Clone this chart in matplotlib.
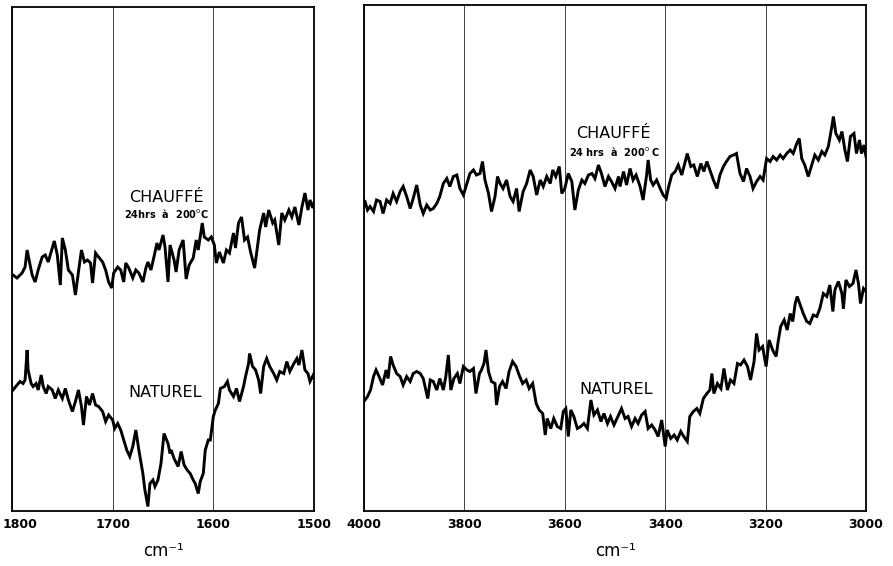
import matplotlib
matplotlib.use("Agg")
import matplotlib.pyplot as plt

#------------------------------------------------------------------------------
#                                   DATA
# wavenumbers (cm-1) and transmission (arbitrary %)

# 1800-1500 cm-1, heated sample ("CHAUFFÉ")
wn_low_heated = [1799, 1795, 1790, 1787, 1785, 1783, 1780, 1777, 1774, 1770,
                 1767, 1764, 1760, 1758, 1755, 1752, 1750, 1747, 1744, 1740,
                 1737, 1734, 1731, 1728, 1725, 1722, 1720, 1717, 1714, 1710,
                 1707, 1704, 1701, 1699, 1695, 1692, 1689, 1687, 1684, 1680,
                 1677, 1674, 1670, 1667, 1665, 1662, 1659, 1656, 1654, 1650,
                 1648, 1645, 1643,
                 1639, 1637, 1634, 1630, 1627, 1624, 1620, 1617, 1615, 1611,
                 1609, 1605, 1602, 1599, 1597, 1594, 1590, 1587, 1584, 1580,
                 1578, 1575, 1572, 1569, 1566, 1563, 1559, 1557, 1554, 1550,
                 1548, 1545, 1541, 1539, 1535, 1532, 1529, 1525, 1522, 1519,
                 1515, 1512, 1509, 1506, 1504, 1501, 1500]
t_low_heated = [47.2, 46.6, 47.6, 48.8, 52.2, 50.2, 47.2, 45.8, 48.2, 50.8,
                51.2, 49.8, 52.6, 54.0, 51.2, 45.2, 54.6, 52.2, 48.2, 47.2,
                43.2, 47.8, 52.2, 49.8, 50.2, 49.6, 45.6, 51.6, 50.8, 49.8,
                48.2, 45.8, 44.6, 47.6, 48.8, 48.2, 45.8, 49.6, 48.6, 46.6,
                48.2, 47.6, 45.8, 48.6, 49.8, 48.2, 50.8, 53.6, 52.2, 55.2,
                52.8, 45.8, 53.2,
                50.2, 47.8, 52.2, 54.2, 46.4, 49.2, 50.6, 54.2, 52.2, 57.6,
                54.8, 54.2, 54.8, 53.2, 49.6, 51.8, 49.6, 52.2, 51.6, 55.6,
                52.6, 57.6, 58.8, 54.2, 54.8, 51.8, 48.6, 51.6, 56.2, 59.6,
                56.8, 60.2, 57.6, 58.2, 53.2, 59.6, 58.2, 60.2, 58.8, 60.8,
                57.2, 60.8, 63.6, 60.2, 62.2, 60.6, 61.6]

# 1800-1500 cm-1, natural sample ("NATUREL")
wn_low_natural = [1799, 1795, 1792, 1789, 1787, 1785, 1784, 1781, 1779, 1776,
                  1774, 1771, 1769, 1766, 1764, 1760, 1757, 1754, 1750, 1747,
                  1744, 1740, 1737, 1734, 1731, 1729, 1726, 1723, 1720, 1717,
                  1714, 1710, 1707, 1704, 1700, 1698, 1695, 1692, 1689, 1686,
                  1683, 1680, 1677, 1674, 1670, 1668, 1665, 1663, 1660, 1658,
                  1655, 1652, 1649, 1645, 1643,
                  1642, 1639, 1635, 1632, 1629, 1626, 1623, 1620, 1618, 1615,
                  1613, 1610, 1608, 1605, 1603, 1600, 1598, 1595, 1593, 1589,
                  1586, 1584, 1580, 1577, 1574, 1570, 1568, 1565, 1564, 1561,
                  1558, 1555, 1553, 1550, 1547, 1544, 1540, 1537, 1534, 1530,
                  1527, 1524, 1520, 1517, 1515, 1512, 1509, 1506, 1504, 1500]
t_low_natural = [24.2, 25.2, 25.9, 25.5, 26.2, 32.2, 28.2, 25.5, 24.9, 25.5,
                 24.2, 27.2, 24.9, 23.5, 24.9, 24.2, 22.5, 24.2, 22.5, 24.5,
                 22.2, 19.9, 21.9, 24.2, 20.9, 17.2, 22.9, 21.2, 23.5, 21.2,
                 20.9, 19.9, 17.9, 19.2, 18.2, 16.5, 17.5, 16.2, 14.2, 12.2,
                 10.9, 12.9, 16.2, 12.2, 7.5, 4.2, 0.9, 5.5, 6.2, 4.9,
                 6.2, 9.5, 15.5, 13.5, 11.5,
                 12.2, 10.5, 8.9, 11.9, 9.2, 8.2, 7.5, 6.2, 5.5, 3.5,
                 5.9, 7.5, 12.2, 14.2, 14.2, 18.9, 20.2, 21.5, 24.5, 24.9,
                 25.9, 24.2, 22.9, 24.5, 21.9, 24.9, 26.9, 29.5, 31.5, 28.9,
                 28.2, 26.2, 23.5, 28.9, 30.5, 28.9, 27.5, 26.2, 27.9, 27.5,
                 29.9, 27.9, 29.5, 30.5, 29.2, 32.2, 28.2, 27.5, 25.9, 27.5]

# 4000-3000 cm-1, heated sample
wn_high_heated = [3998, 3993, 3988, 3981, 3975, 3968, 3962, 3955, 3948, 3942,
                  3935, 3928, 3922, 3915, 3908, 3902, 3895, 3888, 3882, 3875,
                  3868, 3862, 3855, 3849, 3842, 3835, 3829, 3822, 3815, 3809,
                  3802, 3795, 3789, 3782, 3776, 3769, 3764, 3759, 3752, 3746,
                  3739, 3734, 3729, 3723, 3716, 3709, 3703, 3696, 3691, 3683,
                  3676, 3669, 3663, 3656, 3649, 3643, 3636, 3629, 3624, 3618,
                  3611, 3606, 3600, 3593, 3586, 3580, 3573, 3566, 3560, 3553,
                  3546, 3540, 3533, 3527, 3520, 3513, 3507, 3500, 3493,
                  3490, 3483, 3477, 3470, 3464, 3458, 3450, 3444, 3437, 3434,
                  3429, 3424, 3417, 3410, 3404, 3398, 3394, 3387, 3380, 3374,
                  3367, 3361, 3356, 3349, 3343, 3336, 3329, 3323, 3317, 3311,
                  3304, 3297, 3291, 3284, 3278, 3271, 3264, 3258, 3251, 3244,
                  3238, 3231, 3225, 3218, 3211, 3205, 3198, 3191, 3185, 3178,
                  3171, 3165, 3158, 3151, 3145, 3138, 3133, 3128, 3122, 3115,
                  3108, 3102, 3095, 3088, 3082, 3075, 3068, 3065, 3060, 3053,
                  3048, 3042, 3037, 3031, 3024, 3019, 3013, 3009, 3004, 3000]
t_high_heated = [61.9, 60.2, 60.9, 59.9, 62.2, 61.9, 59.5, 62.2, 61.5, 63.5,
                 61.9, 63.9, 64.9, 62.9, 60.5, 62.5, 65.2, 61.2, 59.5, 61.2,
                 60.2, 60.5, 61.5, 62.9, 65.5, 66.5, 64.9, 66.9, 67.2, 64.5,
                 63.2, 65.5, 67.5, 68.2, 67.2, 67.5, 69.9, 66.2, 63.5, 59.9,
                 62.9, 66.9, 65.5, 64.5, 66.2, 62.9, 61.9, 64.5, 59.9, 63.9,
                 65.5, 68.2, 66.9, 63.2, 66.2, 64.9, 66.9, 65.5, 68.2, 66.9,
                 68.9, 63.5, 64.5, 67.5, 65.9, 60.2, 64.2, 66.2, 65.5, 67.2,
                 67.5, 66.5, 69.2, 67.5, 64.9, 66.9, 65.9, 64.5, 66.9,
                 64.9, 67.9, 65.2, 68.5, 66.2, 67.2, 64.9, 62.2, 67.2, 70.2,
                 66.2, 65.2, 66.2, 64.5, 63.2, 62.5, 64.5, 67.2, 67.9, 69.2,
                 67.2, 69.5, 71.5, 68.9, 69.2, 66.9, 69.5, 67.9, 69.9, 68.2,
                 66.2, 64.5, 67.2, 68.9, 69.9, 70.9, 71.2, 71.5, 67.5, 65.9,
                 68.5, 66.9, 64.5, 65.9, 66.9, 66.2, 70.5, 69.9, 70.9, 70.2,
                 71.2, 70.5, 71.5, 72.2, 71.5, 73.5, 74.5, 70.5, 69.2, 66.9,
                 69.2, 71.2, 70.2, 71.9, 71.2, 72.9, 76.9, 78.9, 75.5, 74.2,
                 75.9, 72.2, 69.9, 74.9, 75.5, 71.5, 74.2, 71.5, 73.2, 70.9]

# 4000-3000 cm-1, natural sample
wn_high_natural = [3998, 3993, 3987, 3981, 3976, 3970, 3963, 3956, 3952, 3947,
                   3942, 3935, 3928, 3922, 3915, 3908, 3902, 3895, 3888, 3882,
                   3873, 3868, 3862, 3855, 3849, 3842, 3837, 3832, 3827, 3821,
                   3814, 3809, 3802, 3795, 3789, 3782, 3777, 3770, 3766, 3761,
                   3757, 3752, 3746, 3739, 3736, 3730, 3724, 3717, 3711, 3704,
                   3697, 3691, 3684, 3677, 3671, 3664, 3657, 3651, 3644, 3639,
                   3635, 3628, 3622, 3615, 3608, 3603, 3598, 3593, 3588, 3582,
                   3575, 3568, 3562, 3555, 3548, 3542, 3535, 3528, 3522, 3515,
                   3509, 3502, 3493,
                   3487, 3480, 3474, 3467, 3460, 3454, 3447, 3440, 3434, 3427,
                   3420, 3414, 3407, 3400, 3396, 3389, 3382, 3376, 3369, 3363,
                   3356, 3351, 3344, 3337, 3331, 3324, 3317, 3311, 3307, 3303,
                   3296, 3289, 3283, 3276, 3270, 3263, 3256, 3250, 3243, 3236,
                   3230, 3223, 3218, 3213, 3206, 3199, 3193, 3186, 3179, 3175,
                   3170, 3163, 3157, 3151, 3146, 3141, 3137, 3131, 3125, 3118,
                   3112, 3105, 3098, 3092, 3085, 3078, 3072, 3066, 3062, 3055,
                   3048, 3045, 3040, 3033, 3026, 3020, 3015, 3011, 3005, 3000]
t_high_natural = [22.2, 22.9, 24.2, 26.9, 28.2, 26.9, 25.2, 28.2, 26.5, 30.9,
                  29.2, 27.5, 26.9, 25.2, 26.9, 25.9, 27.5, 27.9, 27.5, 26.5,
                  22.5, 26.2, 25.9, 24.2, 26.5, 24.2, 26.9, 31.2, 24.2, 26.5,
                  27.5, 25.5, 28.9, 28.2, 27.9, 28.5, 23.5, 27.5, 28.2, 29.5,
                  32.2, 27.9, 25.9, 25.5, 21.2, 24.9, 25.9, 24.5, 27.9, 29.9,
                  28.9, 27.2, 25.5, 26.2, 24.5, 25.5, 21.5, 20.2, 19.5, 15.2,
                  18.5, 16.5, 18.5, 16.9, 16.5, 19.9, 20.5, 14.9, 20.2, 18.9,
                  16.5, 16.9, 17.5, 16.5, 22.2, 19.2, 20.2, 17.9, 19.5, 17.5,
                  18.9, 17.2, 19.2,
                  20.5, 18.5, 18.9, 16.9, 18.5, 17.5, 19.2, 19.9, 16.5, 17.2,
                  16.2, 14.9, 18.2, 12.9, 16.2, 14.5, 15.2, 14.2, 15.9, 14.9,
                  13.9, 18.9, 19.9, 20.5, 19.5, 22.5, 23.5, 24.2, 27.5, 23.5,
                  25.5, 24.5, 28.5, 24.2, 26.2, 25.5, 29.5, 29.2, 30.2, 28.9,
                  26.2, 29.9, 35.5, 32.2, 32.9, 28.9, 34.2, 32.2, 30.9, 33.9,
                  36.9, 38.2, 36.2, 39.5, 37.9, 41.5, 42.9, 41.2, 39.5, 37.9,
                  37.5, 39.2, 38.9, 40.5, 43.5, 42.9, 45.2, 39.9, 44.2, 45.9,
                  43.5, 40.5, 46.2, 44.9, 45.5, 48.2, 45.5, 41.5, 44.5, 43.9]

ticks_low = [1800, 1700, 1600, 1500]
ticks_high = [4000, 3800, 3600, 3400, 3200, 3000]

label_heated = "CHAUFFÉ"
label_natural = "NATUREL"
sub_low = "24hrs  à  200$^{\\rm o}$C"
sub_high = "24 hrs  à  200$^{\\rm o}$ C"

#------------------------------------------------------------------------------
#                                   PLOT
fig = plt.figure(figsize=(8.93, 5.66), dpi=100)
ax1 = fig.add_axes([12 / 893, 55 / 566, 302 / 893, 504 / 566])
ax2 = fig.add_axes([364 / 893, 55 / 566, 502 / 893, 506 / 566])


def style_panel(ax, xlim, ticks, ytop):
    ax.set_xlim(*xlim)
    ax.set_ylim(0, ytop)
    ax.set_xticks(ticks)
    ax.set_xticklabels([str(t) for t in ticks], fontsize=9, fontweight='bold')
    ax.set_yticks([])
    ax.tick_params(axis='x', length=0, pad=5)
    ax.grid(axis='x', color='#444444', linewidth=0.7)
    for s in ax.spines.values():
        s.set_linewidth(1.3)
        s.set_color('black')
    ax.set_xlabel("cm⁻¹", fontsize=12, labelpad=8)


style_panel(ax1, (1800, 1500), ticks_low, 100.8)
style_panel(ax2, (4000, 3000), ticks_high, 101.2)

# the first tick label of the left panel sits a bit inward so it stays on the page
lbls = [str(t) for t in ticks_low]
lbls[0] = ''
ax1.set_xticklabels(lbls, fontsize=9, fontweight='bold')
ax1.annotate(str(ticks_low[0]), xy=(ticks_low[0], 0), xycoords=('data', 'axes fraction'),
             xytext=(6, -5), textcoords='offset points', ha='center', va='top',
             fontsize=9, fontweight='bold')

for ax, wn, t in [(ax1, wn_low_heated, t_low_heated), (ax1, wn_low_natural, t_low_natural),
                  (ax2, wn_high_heated, t_high_heated), (ax2, wn_high_natural, t_high_natural)]:
    ax.plot(wn, t, color='black', lw=2.1, solid_joinstyle='miter')

# labels on the traces
ax1.text(1647, 61.7, label_heated, ha='center', va='baseline', fontsize=11.5)
ax1.text(1647, 58.7, sub_low, ha='center', va='baseline', fontsize=7, fontweight='bold')
ax1.text(1648, 22.8, label_natural, ha='center', va='baseline', fontsize=11.5)

ax2.text(3504, 74.6, label_heated, ha='center', va='baseline', fontsize=11.5)
ax2.text(3500, 71.1, sub_high, ha='center', va='baseline', fontsize=7, fontweight='bold')
ax2.text(3498, 23.4, label_natural, ha='center', va='baseline', fontsize=11.5)

plt.savefig("out.png", dpi=100)
